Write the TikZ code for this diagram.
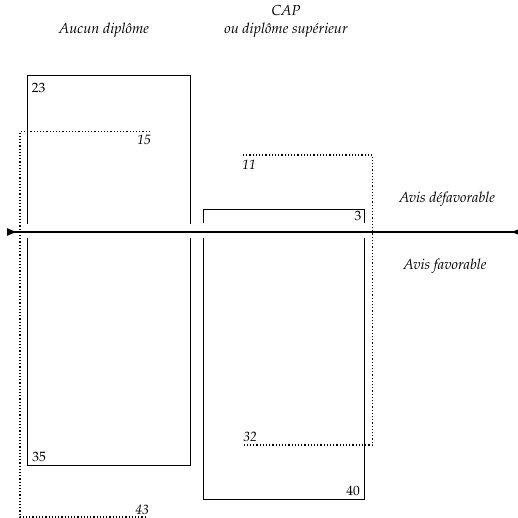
\documentclass[tikz,border=0pt]{standalone}
\usepackage[T1]{fontenc}
\usepackage{mathpazo}
\usetikzlibrary{arrows.meta}
\tikzset{
  lbl/.style={inner sep=0pt, font=\fontsize{14.5}{16}\selectfont\itshape},
  num/.style={inner sep=0pt, font=\fontsize{13.5}{15}\selectfont},
  inum/.style={inner sep=0pt, font=\fontsize{13.5}{15}\selectfont\itshape},
  solidbox/.style={line width=0.9pt, black},
  dotbox/.style={line width=1.2pt, black, dash pattern=on 1.2pt off 2pt},
  axis/.style={line width=1.5pt, black}
}
\begin{document}
\begin{tikzpicture}[x=1pt,y=-1pt]
\useasboundingbox (0,0) rectangle (518,518);
% headers
\node[lbl] (h1) at (104,30) {Aucun diplôme};
\node[lbl] (h2a) at (286,11) {CAP};
\node[lbl] (h2b) at (286,30) {ou diplôme supérieur};
\node[lbl] (avd) at (447,199) {Avis défavorable};
\node[lbl] (avf) at (445,266) {Avis favorable};
% left solid box (split at axis)
\draw[solidbox] (27,224) -- (27,75) -- (190,75) -- (190,224);
\draw[solidbox] (27,238) -- (27,465) -- (190,465) -- (190,238);
% right solid box
\draw[solidbox] (203,223) -- (203,209) -- (364.5,209) -- (364.5,223);
\draw[solidbox] (203,238) -- (203,499) -- (364.5,499) -- (364.5,238);
% dotted left
\draw[dotbox] (150,131.5) -- (20,131.5) -- (20,517) -- (147,517);
% dotted right
\draw[dotbox] (243,155) -- (372.5,155) -- (372.5,445) -- (243,445);
% axis
\coordinate (axL) at (7,232);
\coordinate (axR) at (521,232);
\draw[axis, {Latex[reversed,length=11pt,width=8pt]}-{Latex[reversed,length=11pt,width=8pt]}] (axL) -- (axR);
% numbers
\node[num] (n23) at (38.5,88) {23};
\node[num] (n35) at (39,457) {35};
\node[num] (n3) at (358,216) {3};
\node[num] (n40) at (353,491) {40};
\node[inum] (n15) at (144,140) {15};
\node[inum] (n11) at (249,165) {11};
\node[inum] (n43) at (142,510) {43};
\node[inum] (n32) at (250,437) {32};
\end{tikzpicture}
\end{document}
